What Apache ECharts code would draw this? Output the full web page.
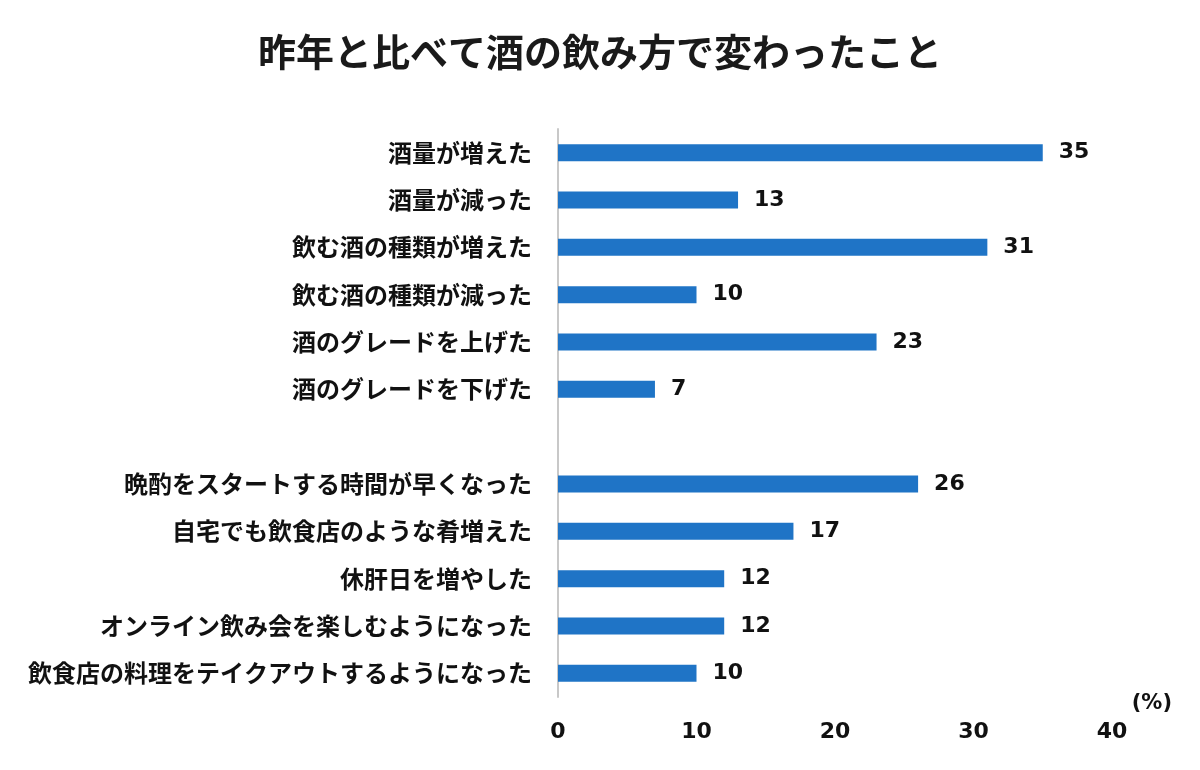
<!DOCTYPE html>
<html>
<head>
<meta charset="utf-8">
<script src="https://cdn.jsdelivr.net/npm/echarts@6/dist/echarts.min.js"></script>
<style>html,body{margin:0;padding:0;background:#fff}#c{width:1200px;height:770px}</style>
</head>
<body>
<div id="c"></div>
<script>
const titleText = '昨年と比べて酒の飲み方で変わったこと';
const categories = [
  '酒量が増えた',
  '酒量が減った',
  '飲む酒の種類が増えた',
  '飲む酒の種類が減った',
  '酒のグレードを上げた',
  '酒のグレードを下げた',
  '',
  '晩酌をスタートする時間が早くなった',
  '自宅でも飲食店のような肴増えた',
  '休肝日を増やした',
  'オンライン飲み会を楽しむようになった',
  '飲食店の料理をテイクアウトするようになった'
];
const values = [35, 13, 31, 10, 23, 7, '-', 26, 17, 12, 12, 10];
const unitLabel = '(%)';

const jp = '"Noto Sans CJK JP", "Noto Sans", sans-serif';
const num = '"DejaVu Sans", Verdana, sans-serif';

const chart = echarts.init(document.getElementById('c'));
chart.setOption({
  backgroundColor: '#ffffff',
  animation: false,
  title: {
    text: titleText,
    left: 'center',
    top: 28,
    textStyle: { fontFamily: jp, fontSize: 38, fontWeight: 'bold', color: '#1a1a1a' }
  },
  graphic: [{
    type: 'text',
    right: 28,
    top: 693,
    style: { text: unitLabel, font: 'bold 21px ' + num, fill: '#111' }
  }],
  grid: { left: 558, right: 88, top: 129, bottom: 73, containLabel: false },
  xAxis: {
    type: 'value',
    min: 0,
    max: 40,
    interval: 10,
    axisLine: { show: false },
    axisTick: { show: false },
    splitLine: { show: false },
    axisLabel: { margin: 24, fontFamily: num, fontSize: 22, fontWeight: 'bold', color: '#111' }
  },
  yAxis: {
    type: 'category',
    inverse: true,
    data: categories,
    axisLine: { show: true, lineStyle: { color: '#c8c8c8', width: 2 } },
    axisTick: { show: false },
    axisLabel: { margin: 26, fontFamily: jp, fontSize: 24, fontWeight: 'bold', color: '#111' }
  },
  series: [{
    type: 'bar',
    data: values,
    barWidth: 17,
    itemStyle: { color: '#1f74c6' },
    label: {
      show: true,
      position: 'right',
      distance: 16,
      fontFamily: num,
      fontSize: 22,
      fontWeight: 'bold',
      color: '#111'
    }
  }]
});
</script>
</body>
</html>
